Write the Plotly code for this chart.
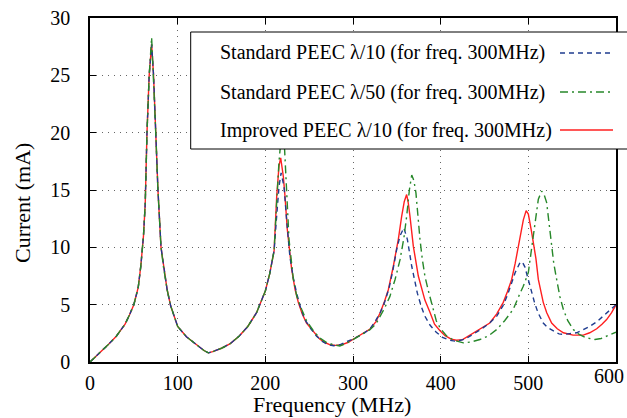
import plotly.graph_objects as go

# ---------------- data ----------------
blue_f = [0, 10, 20, 30, 40, 45, 50, 55, 58, 61, 63, 65, 67.5, 70.3, 72.5, 75, 77.5, 81, 84, 88, 92, 96, 100,
          110, 120, 130, 135, 140, 150, 160, 170, 180, 190, 200, 205, 210,
          213, 215.6, 218, 221.3, 224.3, 228, 232, 235.7, 240, 245, 252, 258.5, 265, 272, 278, 285, 292, 300,
          310, 319, 325, 331, 336, 341, 345.5, 349.8, 353.6, 358, 362, 367, 373.4, 378, 382, 388, 395, 402,
          410, 418, 428, 437, 446, 456, 464, 471, 476, 481, 485, 490, 493, 496, 499, 503, 507, 511, 517, 522,
          528.5, 535, 540, 548, 555, 562, 570, 578, 585.5, 592, 600]
blue_i = [0, 0.7, 1.45, 2.25, 3.3, 4.1, 5.0, 6.5, 8.4, 11, 13.8, 20, 25, 27.7, 25, 20, 15, 10, 8.2, 6.3, 4.9, 3.9, 3.1,
          2.2, 1.6, 1.0, 0.8, 0.9, 1.2, 1.6, 2.25, 3.1, 4.3, 6.2, 7.7, 9.7,
          12.8, 15.3, 16.5, 15.3, 12.4, 9.2, 7.3, 6.0, 4.8, 3.7, 2.9, 2.25, 1.8, 1.5, 1.42, 1.5, 1.75, 2.0,
          2.4, 2.85, 3.5, 4.3, 5.2, 6.4, 8.0, 9.8, 11.0, 11.7, 10.7, 8.35, 6.0, 4.8, 4.0, 3.2, 2.6, 2.15,
          1.9, 1.8, 2.0, 2.4, 2.85, 3.4, 4.0, 4.9, 5.8, 6.9, 7.8, 8.6, 8.75, 8.3, 7.4, 6.2, 5.2, 4.3, 3.4, 3.0,
          2.7, 2.45, 2.4, 2.45, 2.55, 2.8, 3.1, 3.5, 4.0, 4.4, 5.0]

green_f = [0, 10, 20, 30, 40, 45, 50, 55, 58, 61, 63, 65, 67.5, 70.3, 72.5, 75, 77.5, 81, 84, 88, 92, 96, 100,
           110, 120, 130, 135, 140, 150, 160, 170, 180, 190, 200, 205, 210,
           213, 215.6, 218, 220, 222, 224.5, 227, 232, 236, 241.4, 247, 255, 262, 270, 278, 285, 292, 300,
           310, 319, 326, 331, 336, 342, 348, 353.6, 358, 361.2, 364.3, 367, 369.5, 371.8, 374, 376.4, 379, 382,
           386, 389.7, 395, 400, 407, 415, 425.8, 435, 444.8, 455, 463.9, 473, 482.8, 490, 494.2, 500, 502,
           505.7, 508, 511.4, 515.2, 518, 520.9, 524, 526.6, 529, 532.3, 536, 539.9, 545, 551.3, 558, 566.5,
           576, 583, 589.3, 595, 600]
green_i = [0, 0.7, 1.45, 2.25, 3.3, 4.1, 5.0, 6.5, 8.4, 11, 13.8, 20, 25, 28.3, 25, 20, 15, 10, 8.2, 6.3, 4.9, 3.9, 3.1,
           2.2, 1.6, 1.0, 0.8, 0.9, 1.2, 1.6, 2.25, 3.1, 4.3, 6.2, 7.7, 9.7,
           14.0, 17.5, 19.5, 20.0, 18.5, 15.0, 10.7, 7.2, 5.7, 4.6, 3.6, 2.7, 2.1, 1.7, 1.5, 1.4, 1.6, 1.96,
           2.4, 2.8, 3.3, 4.0, 4.7, 5.7, 7.2, 8.9, 10.8, 12.7, 15.0, 16.3, 15.8, 14.75, 12.7, 10.7, 9.0, 7.5,
           6.2, 5.2, 3.6, 2.9, 2.25, 1.9, 1.67, 1.75, 1.96, 2.3, 2.83, 3.6, 4.6, 5.9, 6.6, 7.8, 8.9,
           11.0, 12.4, 14.2, 14.9, 14.6, 13.9, 12.0, 10.1, 8.6, 7.2, 5.7, 4.6, 3.6, 2.83, 2.4, 2.1,
           1.96, 2.05, 2.25, 2.45, 2.6]

red_f = [0, 10, 20, 30, 40, 45, 50, 55, 58, 61, 63, 65, 67.5, 70.3, 72.5, 75, 77.5, 81, 84, 88, 92, 96, 100,
         110, 120, 130, 135, 140, 150, 160, 170, 180, 190, 200, 205, 210,
         213, 215.6, 217.5, 220.5, 222.4, 225, 230, 234, 237.6, 242, 247, 255, 262, 268, 274, 280, 287, 294, 300,
         310, 319, 326, 331, 336, 340.3, 346, 351.7, 355.5, 358.5, 361.2, 363, 365, 368.8, 374.5, 382, 388, 393,
         399, 405, 412, 418, 425, 437, 446, 456, 464, 471.4, 476, 481, 485, 488.6, 491.5, 494.3, 497.5, 500,
         503.8, 506, 508.7, 511.4, 513.5, 517, 521, 526.6, 533, 540, 551, 562.7, 570, 578, 584, 589.3, 595, 600]
red_i = [0, 0.7, 1.45, 2.25, 3.3, 4.1, 5.0, 6.5, 8.4, 11, 13.8, 20, 25, 27.7, 25, 20, 15, 10, 8.2, 6.3, 4.9, 3.9, 3.1,
         2.2, 1.6, 1.0, 0.8, 0.9, 1.2, 1.6, 2.25, 3.1, 4.3, 6.2, 7.7, 9.7,
         14.5, 17.1, 17.8, 16.2, 14.5, 11.6, 8.1, 6.3, 5.2, 4.2, 3.4, 2.6, 2.0, 1.7, 1.5, 1.45, 1.5, 1.7, 1.96,
         2.4, 2.85, 3.5, 4.3, 5.3, 6.3, 8.35, 10.7, 12.7, 14.0, 14.6, 13.9, 12.7, 10.1, 7.5, 5.4, 4.3, 3.3,
         2.75, 2.3, 2.0, 1.9, 1.95, 2.5, 2.9, 3.4, 4.2, 5.2, 6.1, 7.2, 8.6, 10.1, 11.3, 12.4, 13.2, 12.9,
         11.3, 10.3, 9.0, 7.2, 6.5, 5.2, 4.3, 3.4, 2.9, 2.55, 2.34, 2.34, 2.55, 2.9, 3.3, 3.7, 4.3, 5.0]

legend_labels = ["Standard PEEC λ/10 (for freq. 300MHz)",
                 "Standard PEEC λ/50 (for freq. 300MHz)",
                 "Improved PEEC λ/10 (for freq. 300MHz)"]
x_ticks = [0, 100, 200, 300, 400, 500, 600]
y_ticks = [0, 5, 10, 15, 20, 25, 30]

# ---------------- styling ----------------
FONT = "Liberation Serif"
BLUE = "#1f3c8f"
GREEN = "#27882a"
RED = "#ff1f1f"
BLUE_DASH = "5px,4px"
GREEN_DASH = "8px,4px,2px,4px"

fig = go.Figure()
fig.add_trace(go.Scatter(x=red_f, y=red_i, mode="lines", line=dict(color=RED, width=1.4), showlegend=False))
fig.add_trace(go.Scatter(x=blue_f, y=blue_i, mode="lines",
                         line=dict(color=BLUE, width=1.4, dash=BLUE_DASH), showlegend=False))
fig.add_trace(go.Scatter(x=green_f, y=green_i, mode="lines",
                         line=dict(color=GREEN, width=1.4, dash=GREEN_DASH), showlegend=False))

axis_common = dict(showline=True, linecolor="black", linewidth=1.5, mirror="allticks",
                   ticks="inside", ticklen=6, tickwidth=1, tickcolor="black",
                   showgrid=True, gridcolor="#666666", griddash="1px,5px", gridwidth=1,
                   zeroline=False, automargin=False,
                   tickfont=dict(family=FONT, size=20, color="black"))

# last x label (600) is placed as an annotation so it stays inside the page
x_ticktext = [str(v) if v != x_ticks[-1] else "" for v in x_ticks]
fig.update_xaxes(range=[0, 600], tickvals=x_ticks, ticktext=x_ticktext,
                 ticklabelstandoff=2, **axis_common)
fig.update_yaxes(range=[0, 30], tickvals=y_ticks, ticktext=[str(v) for v in y_ticks],
                 ticklabelstandoff=14, **axis_common)

L, R, T, B = 90, 11, 18, 56
W, H = 627, 418
pw, ph = W - L - R, H - T - B


def px(x):
    return (x - L) / pw


def py(y):
    return (H - B - y) / ph


shapes = [dict(type="rect", xref="paper", yref="paper", x0=px(190.7), x1=px(645), y0=py(149), y1=py(32),
               fillcolor="white", line=dict(color="black", width=1), layer="above")]
annotations = []
styles = [(BLUE, BLUE_DASH), (GREEN, GREEN_DASH), (RED, "solid")]
rows = [53, 92, 130]
for lab, (col, dash), ry in zip(legend_labels, styles, rows):
    annotations.append(dict(text=lab, xref="paper", yref="paper", x=px(218), y=py(ry),
                            xanchor="left", yanchor="middle", showarrow=False,
                            font=dict(family=FONT, size=20, color="black")))
    shapes.append(dict(type="line", xref="paper", yref="paper", x0=px(560), x1=px(613), y0=py(ry), y1=py(ry),
                       line=dict(color=col, width=1.4, dash=dash), layer="above"))

annotations.append(dict(text=str(x_ticks[-1]), xref="paper", yref="paper", x=px(626), y=py(376),
                        xanchor="right", yanchor="middle", showarrow=False,
                        font=dict(family=FONT, size=20, color="black")))
annotations.append(dict(text="Frequency (MHz)", xref="paper", yref="paper", x=px(332), y=py(404),
                        xanchor="center", yanchor="middle", showarrow=False,
                        font=dict(family=FONT, size=22, color="black")))
annotations.append(dict(text="Current (mA)", xref="paper", yref="paper", x=px(22), y=py(203),
                        xanchor="center", yanchor="middle", showarrow=False, textangle=-90,
                        font=dict(family=FONT, size=22, color="black")))

fig.update_layout(width=W, height=H, margin=dict(l=L, r=R, t=T, b=B, pad=0, autoexpand=False),
                  paper_bgcolor="white", plot_bgcolor="white",
                  shapes=shapes, annotations=annotations, showlegend=False)

fig.write_html("out.html")
